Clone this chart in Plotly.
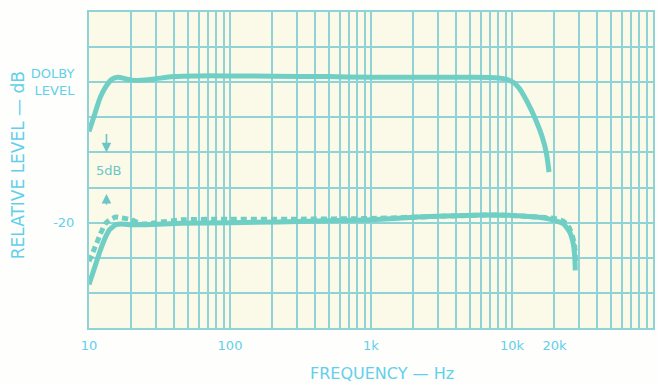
import numpy as np
import plotly.graph_objects as go

# ---- data ----
dolby_freq = [10, 11, 12, 13, 14.5, 16, 18, 20, 25, 30, 40, 60, 100, 200, 500, 1000,
              2000, 5000, 8000, 9200, 10200, 11200, 12200, 13500, 14900, 16500, 17500, 18300]
dolby_db = [-7.0, -4.5, -2.2, -0.8, 0.4, 0.7, 0.5, 0.3, 0.3, 0.5, 0.8, 0.9, 0.9, 0.85, 0.8, 0.7,
            0.7, 0.7, 0.6, 0.4, 0.0, -0.8, -2.0, -3.7, -5.6, -8.0, -10.0, -12.8]

low_freq = [10, 11, 12, 13, 14, 15.5, 17, 20, 25, 45, 220, 580, 1000, 2150, 4000, 6300,
            10800, 15000, 18500, 23200, 25600, 27200, 27900, 28100]
low_db = [-28.8, -26.3, -24.0, -22.2, -21.0, -20.3, -20.2, -20.3, -20.3, -20.1, -19.9, -19.7,
          -19.6, -19.2, -19.0, -18.9, -19.0, -19.2, -19.5, -20.2, -21.3, -23.0, -25.0, -26.8]

low_dash_freq = [10, 10.5, 11.3, 12, 13, 14, 15.5, 17, 20, 24, 30, 45, 100, 300, 1000, 3000,
                 8000, 15000, 20000, 23200, 25600, 27700, 28300]
low_dash_db = [-25.5, -24.5, -23.0, -21.7, -20.2, -19.6, -19.2, -19.3, -19.6, -20.2, -20.0,
               -19.6, -19.5, -19.5, -19.4, -19.1, -18.9, -19.2, -19.4, -19.8, -20.8, -23.0, -26.0]

x_tick_labels = {10: "10", 100: "100", 1000: "1k", 10000: "10k", 20000: "20k"}
y_tick_labels = {0: "DOLBY<br>LEVEL", -20: "-20"}

# ---- styling ----
CURVE = "#6fcfc4"
GRID = "#8fd3d6"
TEXT = "#62d0ea"
FONT = "DejaVu Sans"

x_vals = [m * 10 ** d for d in range(1, 5) for m in range(1, 10)] + [100000]
x_text = [x_tick_labels.get(v, "") for v in x_vals]
y_vals = list(range(-35, 11, 5))
y_text = [y_tick_labels.get(v, "") for v in y_vals]

fig = go.Figure()
fig.add_trace(go.Scatter(x=dolby_freq, y=dolby_db, mode="lines",
                         line=dict(color=CURVE, width=5, shape="spline", smoothing=0.9),
                         showlegend=False))
fig.add_trace(go.Scatter(x=low_freq, y=low_db, mode="lines",
                         line=dict(color=CURVE, width=5, shape="spline", smoothing=0.5),
                         showlegend=False))
fig.add_trace(go.Scatter(x=low_dash_freq, y=low_dash_db, mode="lines",
                         line=dict(color=CURVE, width=5, dash="6px,4px", shape="spline", smoothing=0.5),
                         showlegend=False))

fig.update_xaxes(type="log", range=[1, 5], tickvals=x_vals, ticktext=x_text,
                 showgrid=True, gridcolor=GRID, gridwidth=1.6,
                 showline=True, linecolor=GRID, linewidth=2, mirror=True,
                 ticks="", zeroline=False, ticklabelstandoff=4,
                 tickfont=dict(family=FONT, size=13, color=TEXT))
fig.update_yaxes(range=[-35, 10], tickvals=y_vals, ticktext=y_text,
                 showgrid=True, gridcolor=GRID, gridwidth=1.6,
                 showline=True, linecolor=GRID, linewidth=2, mirror=True,
                 ticks="", zeroline=False, ticklabelstandoff=10,
                 tickfont=dict(family=FONT, size=13, color=TEXT))

annotations = [
    dict(text="RELATIVE LEVEL — dB", textangle=-90, xref="paper", yref="paper",
         x=(18 - 89) / 566, y=(328 - 165) / 316, xanchor="center", yanchor="middle",
         showarrow=False, font=dict(family=FONT, size=17, color=TEXT)),
    dict(text="FREQUENCY — Hz", xref="paper", yref="paper",
         x=(383 - 89) / 566, y=(328 - 374) / 316, xanchor="center", yanchor="middle",
         showarrow=False, font=dict(family=FONT, size=16, color=TEXT)),
    dict(text="5dB", xref="x", yref="y", x=np.log10(13.8), y=-12.6,
         showarrow=False, font=dict(family=FONT, size=13, color="#6cc6c6")),
    dict(text="", xref="x", yref="y", x=np.log10(13.3), y=-10, ax=0, ay=-20,
         showarrow=True, arrowhead=2, arrowsize=1.2, arrowwidth=1.6, arrowcolor="#6cc6c6"),
    dict(text="", xref="x", yref="y", x=np.log10(13.3), y=-15.9, ax=0, ay=12,
         showarrow=True, arrowhead=2, arrowsize=1.2, arrowwidth=1.6, arrowcolor="#6cc6c6"),
]

fig.update_layout(width=658, height=384, margin=dict(l=89, r=3, t=12, b=56),
                  paper_bgcolor="#fefefc", plot_bgcolor="#fbf9e8",
                  annotations=annotations, showlegend=False)

fig.write_html("out.html")
